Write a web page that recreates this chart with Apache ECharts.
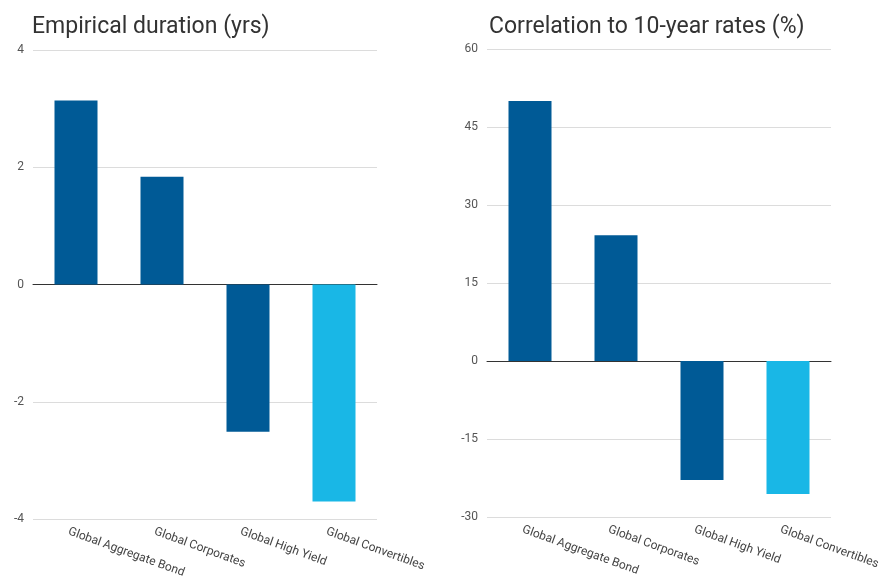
<!DOCTYPE html>
<html><head><meta charset="utf-8">
<script src="https://cdn.jsdelivr.net/npm/echarts@6/dist/echarts.min.js"></script>
<style>html,body{margin:0;padding:0;background:#fff}#c{width:880px;height:581px}</style>
</head><body><div id="c"></div>
<script>
const categories = ['Global Aggregate Bond','Global Corporates','Global High Yield','Global Convertibles'];
const durationValues = [3.14, 1.84, -2.51, -3.70];
const correlationValues = [50, 24.2, -22.9, -25.6];
const durationTicks = [-4, -2, 0, 2, 4];
const correlationTicks = [-30, -15, 0, 15, 30, 45, 60];
const barColors = ['#005a96','#005a96','#005a96','#19b7e6'];

const chart = echarts.init(document.getElementById('c'));
function mkData(vals){ return vals.map((v,i)=>({value:v, itemStyle:{color:barColors[i]}})); }
const catLabel = {rotate:-20, fontFamily:'"Roboto","Noto Sans",sans-serif', fontSize:12, color:'#444', margin:15, padding:[0,0,0,-8]};
const valLabel = {fontFamily:'"Roboto","Noto Sans",sans-serif', fontSize:12, color:'#555', margin:9};
const titleStyle = {fontFamily:'"Roboto","Noto Sans",sans-serif', fontWeight:'normal', fontSize:23, color:'#333'};
chart.setOption({
  animation:false,
  title:[
    {text:'Empirical duration (yrs)', left:27, top:11, textStyle:titleStyle},
    {text:'Correlation to 10-year rates (%)', left:484, top:11, textStyle:titleStyle}
  ],
  grid:[
    {left:33, width:344, top:50, height:469, containLabel:false, outerBoundsMode:'none'},
    {left:487, width:344, top:49, height:468, containLabel:false, outerBoundsMode:'none'}
  ],
  xAxis:[
    {type:'category', gridIndex:0, data:categories, axisTick:{show:false}, axisLine:{onZero:true, lineStyle:{color:'#333', width:1}}, axisLabel:Object.assign({}, catLabel)},
    {type:'category', gridIndex:1, data:categories, axisTick:{show:false}, axisLine:{onZero:true, lineStyle:{color:'#333', width:1}}, axisLabel:Object.assign({}, catLabel)}
  ],
  yAxis:[
    {type:'value', gridIndex:0, min:durationTicks[0], max:durationTicks[durationTicks.length-1], interval:2, axisLine:{show:false}, axisTick:{show:false}, splitLine:{lineStyle:{color:'#dcdcdc'}}, axisLabel:valLabel},
    {type:'value', gridIndex:1, min:correlationTicks[0], max:correlationTicks[correlationTicks.length-1], interval:15, axisLine:{show:false}, axisTick:{show:false}, splitLine:{lineStyle:{color:'#dcdcdc'}}, axisLabel:valLabel}
  ],
  series:[
    {type:'bar', xAxisIndex:0, yAxisIndex:0, data:mkData(durationValues), barWidth:'50%'},
    {type:'bar', xAxisIndex:1, yAxisIndex:1, data:mkData(correlationValues), barWidth:'50%'}
  ]
});
</script></body></html>
